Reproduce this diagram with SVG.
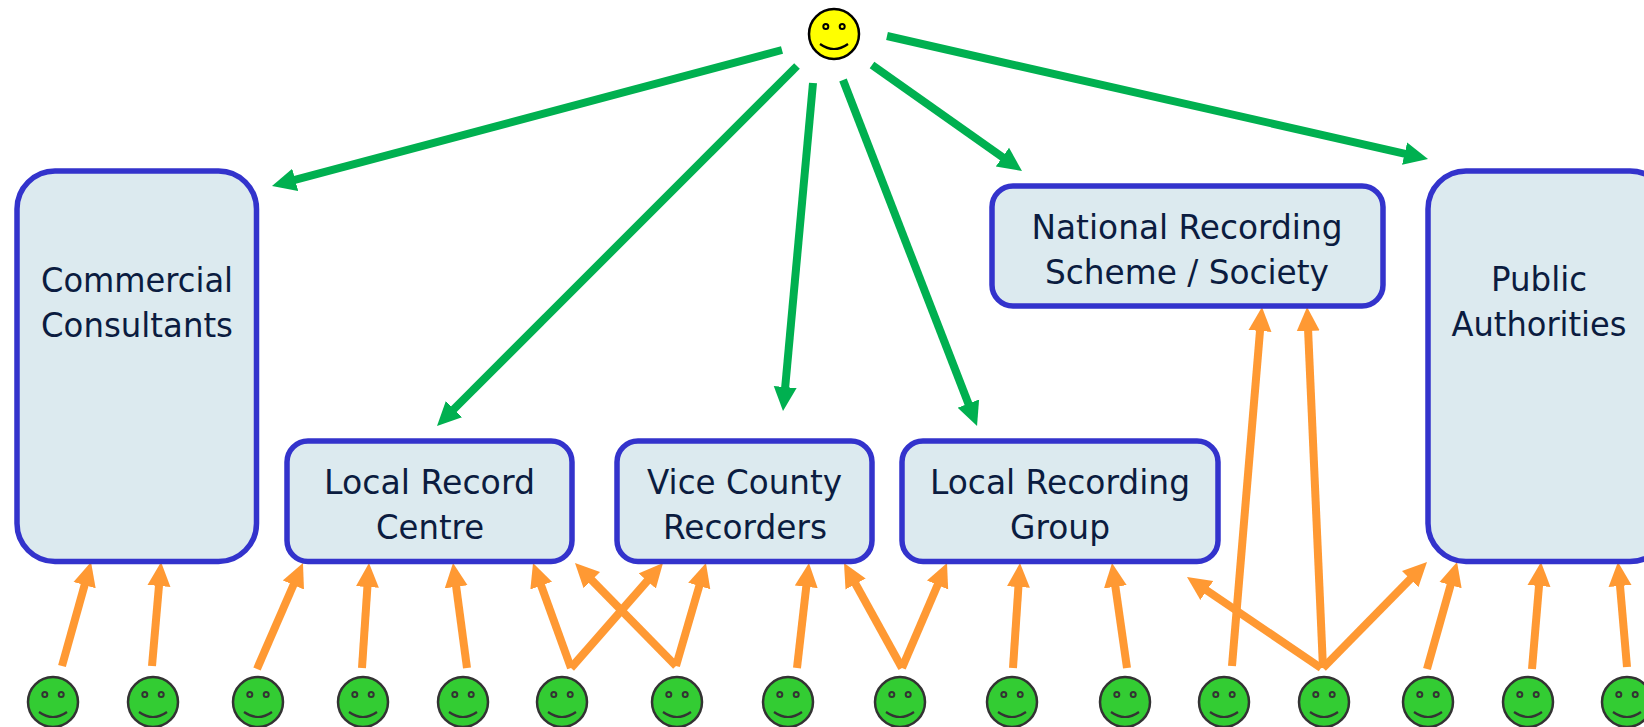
<svg xmlns="http://www.w3.org/2000/svg" width="1644" height="727" viewBox="0 0 1644 727">
<style>
.box{fill:#dceaef;stroke:#3333cc;stroke-width:5.5}
.t{font-family:"DejaVu Sans",Verdana,sans-serif;font-size:34px;fill:#0b1c40;text-anchor:middle}
.g{stroke:#00b050;stroke-width:8;fill:none;marker-end:url(#gh)}
.o{stroke:#ff9933;stroke-width:8;fill:none;marker-end:url(#oh)}
.mem circle.h{fill:#33cc33;stroke:#333}
.mem{stroke:#333}
.boss{stroke:#000}
.boss circle.h{fill:#ffff00}
.h{stroke-width:2.5}
</style>
<defs>
<marker id="gh" markerUnits="userSpaceOnUse" markerWidth="26" markerHeight="26" refX="12" refY="12" orient="auto" viewBox="0 0 26 26"><path d="M0,0.5L24,12L0,23.5Z" fill="#00b050"/></marker>
<marker id="oh" markerUnits="userSpaceOnUse" markerWidth="26" markerHeight="26" refX="12" refY="12" orient="auto" viewBox="0 0 26 26"><path d="M0,0.5L24,12L0,23.5Z" fill="#ff9933"/></marker>
<g id="feat"><circle cx="-8.200" cy="-7.500" r="2.500" fill="none" stroke-width="2"/><circle cx="8.200" cy="-7.500" r="2.500" fill="none" stroke-width="2"/><path d="M-14,10Q0,20 14,10" fill="none" stroke-width="2.200"/></g>
</defs>
<g id="connectors">
<line class="g" x1="782" y1="50" x2="283.6" y2="182.9"/>
<line class="g" x1="797" y1="66" x2="445.5" y2="417.5"/>
<line class="g" x1="813" y1="83" x2="784.1" y2="399"/>
<line class="g" x1="843" y1="80" x2="972.7" y2="414.8"/>
<line class="g" x1="872" y1="65" x2="1012.2" y2="164.1"/>
<line class="g" x1="887" y1="36" x2="1416.3" y2="156.3"/>
<line class="o" x1="62" y1="666" x2="87.8" y2="573.6"/>
<line class="o" x1="152" y1="666" x2="160" y2="574"/>
<line class="o" x1="257" y1="669" x2="298.2" y2="574"/>
<line class="o" x1="362" y1="668" x2="368.2" y2="575"/>
<line class="o" x1="467" y1="668" x2="454.6" y2="574.9"/>
<line class="o" x1="571" y1="668" x2="537.1" y2="574.3"/>
<line class="o" x1="676" y1="666" x2="583.4" y2="571.6"/>
<line class="o" x1="571" y1="668" x2="655.1" y2="572"/>
<line class="o" x1="676" y1="666" x2="702.6" y2="574.5"/>
<line class="o" x1="797" y1="668" x2="807.6" y2="574.9"/>
<line class="o" x1="902" y1="668" x2="849.8" y2="573.5"/>
<line class="o" x1="902" y1="668" x2="942.3" y2="574"/>
<line class="o" x1="1013" y1="668" x2="1019.2" y2="575"/>
<line class="o" x1="1127" y1="668" x2="1113.7" y2="574.9"/>
<line class="o" x1="1232" y1="666" x2="1261" y2="319"/>
<line class="o" x1="1323" y1="668" x2="1307.6" y2="319"/>
<line class="o" x1="1321" y1="668" x2="1196.9" y2="583.7"/>
<line class="o" x1="1323" y1="668" x2="1418.6" y2="570.6"/>
<line class="o" x1="1427" y1="669" x2="1453.8" y2="573.6"/>
<line class="o" x1="1532" y1="669" x2="1540" y2="574"/>
<line class="o" x1="1627" y1="667" x2="1619" y2="574"/>
</g>
<g id="commercial"><rect class="box" x="17" y="171" width="239.500" height="390.500" rx="38"/><text class="t" x="137" y="292" textLength="192" lengthAdjust="spacingAndGlyphs">Commercial</text><text class="t" x="137" y="337" textLength="192" lengthAdjust="spacingAndGlyphs">Consultants</text></g>
<g id="lrc"><rect class="box" x="287" y="441" width="285" height="120.500" rx="21"/><text class="t" x="429.500" y="494" textLength="211" lengthAdjust="spacingAndGlyphs">Local Record</text><text class="t" x="430" y="539" textLength="108" lengthAdjust="spacingAndGlyphs">Centre</text></g>
<g id="vc"><rect class="box" x="617" y="441" width="255" height="120.500" rx="21"/><text class="t" x="744.500" y="494" textLength="195" lengthAdjust="spacingAndGlyphs">Vice County</text><text class="t" x="745" y="539" textLength="164" lengthAdjust="spacingAndGlyphs">Recorders</text></g>
<g id="lrg"><rect class="box" x="902" y="441" width="316" height="120.500" rx="21"/><text class="t" x="1060" y="494" textLength="260" lengthAdjust="spacingAndGlyphs">Local Recording</text><text class="t" x="1060" y="539" textLength="100" lengthAdjust="spacingAndGlyphs">Group</text></g>
<g id="nrs"><rect class="box" x="992" y="186" width="391" height="120" rx="21"/><text class="t" x="1187" y="239" textLength="311" lengthAdjust="spacingAndGlyphs">National Recording</text><text class="t" x="1187" y="284" textLength="284" lengthAdjust="spacingAndGlyphs">Scheme / Society</text></g>
<g id="public"><rect class="box" x="1428" y="171" width="240" height="390.500" rx="38"/><text class="t" x="1539" y="291" textLength="96" lengthAdjust="spacingAndGlyphs">Public</text><text class="t" x="1539" y="336" textLength="175" lengthAdjust="spacingAndGlyphs">Authorities</text></g>
<g id="boss" class="boss"><circle class="h" cx="834" cy="34" r="25"/><use href="#feat" x="834" y="34"/></g>
<g id="m1" class="mem"><circle class="h" cx="53" cy="702" r="25"/><use href="#feat" x="53" y="702"/></g>
<g id="m2" class="mem"><circle class="h" cx="153" cy="702" r="25"/><use href="#feat" x="153" y="702"/></g>
<g id="m3" class="mem"><circle class="h" cx="258" cy="702" r="25"/><use href="#feat" x="258" y="702"/></g>
<g id="m4" class="mem"><circle class="h" cx="363" cy="702" r="25"/><use href="#feat" x="363" y="702"/></g>
<g id="m5" class="mem"><circle class="h" cx="463" cy="702" r="25"/><use href="#feat" x="463" y="702"/></g>
<g id="m6" class="mem"><circle class="h" cx="562" cy="702" r="25"/><use href="#feat" x="562" y="702"/></g>
<g id="m7" class="mem"><circle class="h" cx="677" cy="702" r="25"/><use href="#feat" x="677" y="702"/></g>
<g id="m8" class="mem"><circle class="h" cx="788" cy="702" r="25"/><use href="#feat" x="788" y="702"/></g>
<g id="m9" class="mem"><circle class="h" cx="900" cy="702" r="25"/><use href="#feat" x="900" y="702"/></g>
<g id="m10" class="mem"><circle class="h" cx="1012" cy="702" r="25"/><use href="#feat" x="1012" y="702"/></g>
<g id="m11" class="mem"><circle class="h" cx="1125" cy="702" r="25"/><use href="#feat" x="1125" y="702"/></g>
<g id="m12" class="mem"><circle class="h" cx="1224" cy="702" r="25"/><use href="#feat" x="1224" y="702"/></g>
<g id="m13" class="mem"><circle class="h" cx="1324" cy="702" r="25"/><use href="#feat" x="1324" y="702"/></g>
<g id="m14" class="mem"><circle class="h" cx="1428" cy="702" r="25"/><use href="#feat" x="1428" y="702"/></g>
<g id="m15" class="mem"><circle class="h" cx="1528" cy="702" r="25"/><use href="#feat" x="1528" y="702"/></g>
<g id="m16" class="mem"><circle class="h" cx="1627" cy="702" r="25"/><use href="#feat" x="1627" y="702"/></g>
</svg>
